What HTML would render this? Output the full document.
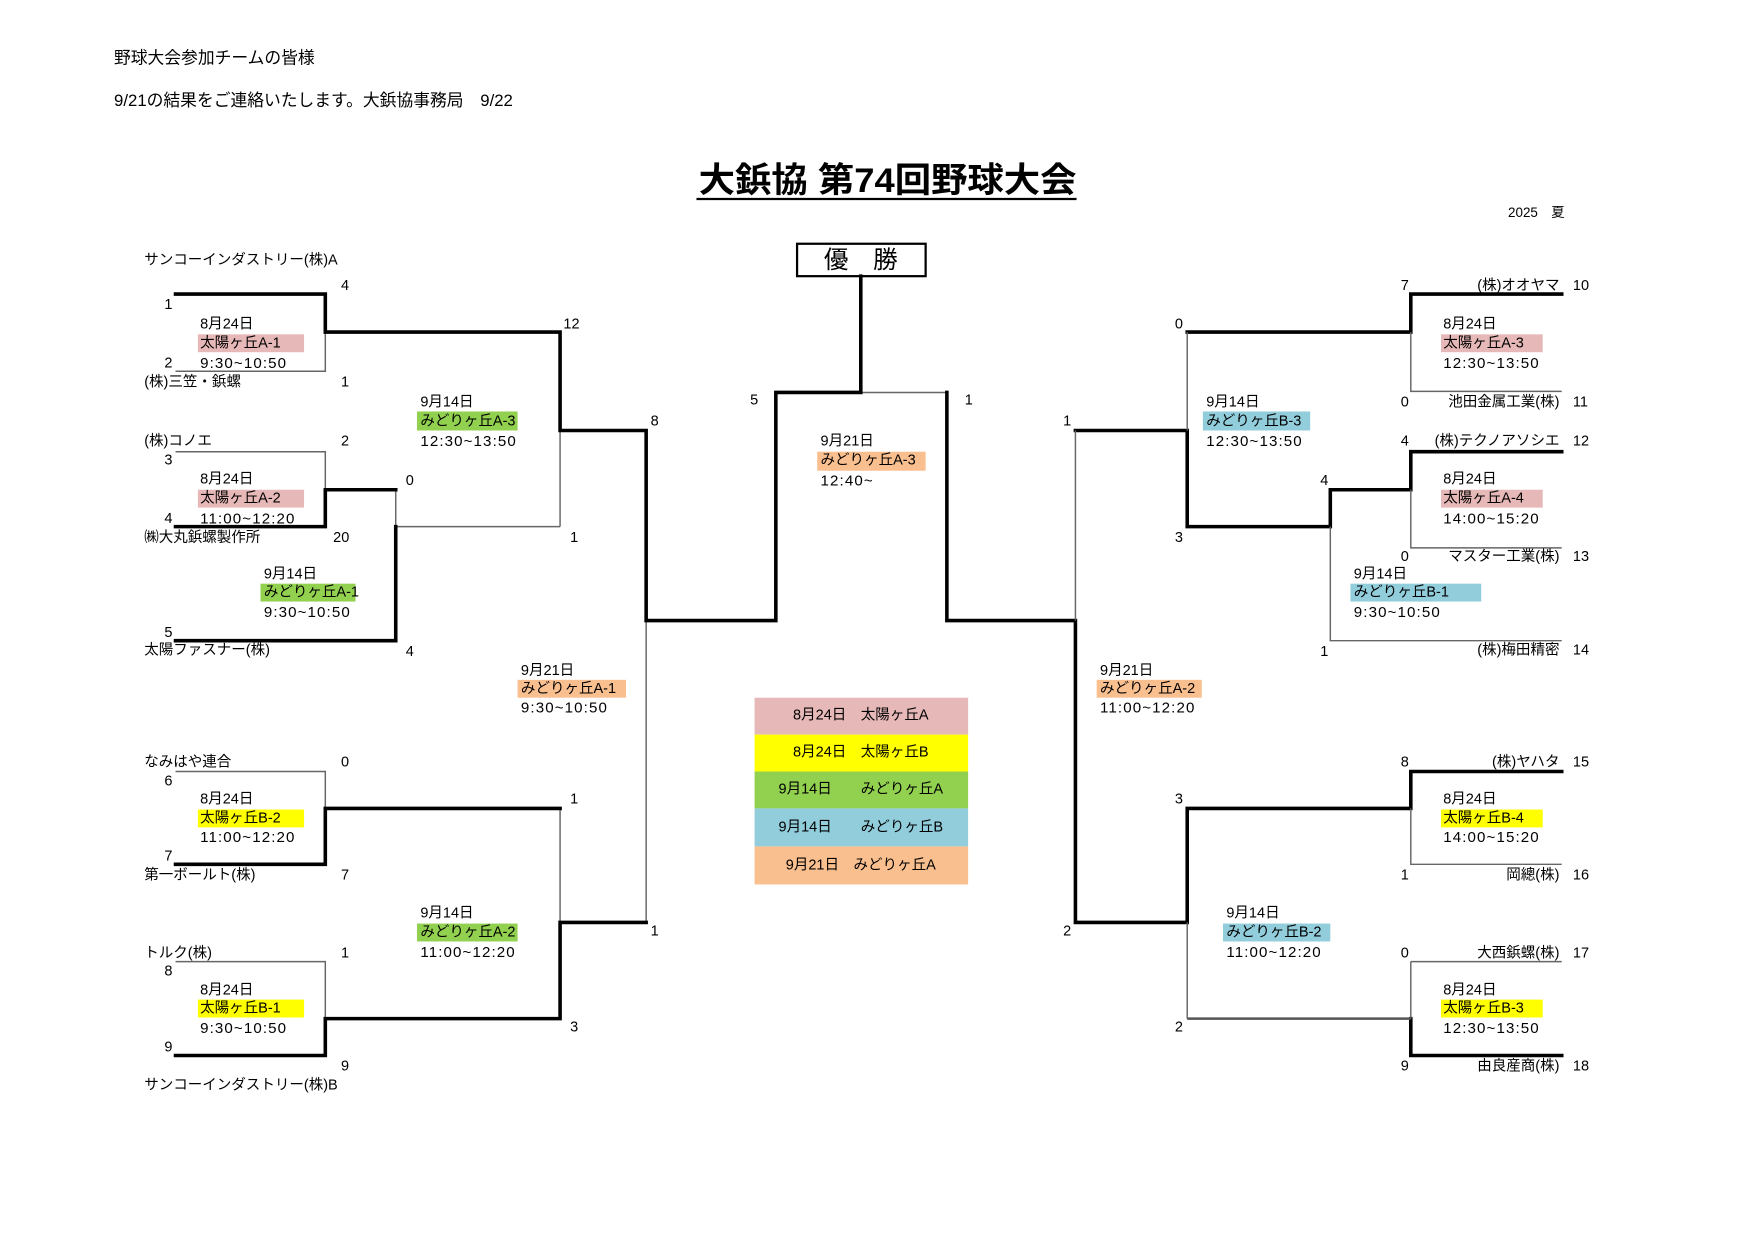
<!DOCTYPE html>
<html><head><meta charset="utf-8"><style>
html,body{margin:0;padding:0;background:#fff;width:1754px;height:1240px;overflow:hidden}
svg{display:block}
text{font-family:"Liberation Sans","Noto Sans CJK JP",sans-serif;font-size:13px;fill:#000;dominant-baseline:central}
.k{fill:none;stroke:#000;stroke-width:3.2;stroke-linecap:square}
.t{fill:none;stroke:#666;stroke-width:1.3}
.m{fill:none;stroke:#555;stroke-width:2.2}
.tm{letter-spacing:1px;font-size:13.5px}
.e{text-anchor:end}
</style></head><body>
<svg width="1754" height="1240" viewBox="0 0 1569 1109" preserveAspectRatio="none">
<text x="102" y="52" style="font-size:15px">野球大会参加チームの皆様</text>
<text x="102" y="90" style="font-size:15px">9/21の結果をご連絡いたします。大鋲協事務局　9/22</text>
<text x="625" y="162" textLength="338" lengthAdjust="spacingAndGlyphs" style="font-size:31px;font-weight:bold">大鋲協 第74回野球大会</text>
<line x1="623" y1="178" x2="963" y2="178" stroke="#000" stroke-width="2"/>
<text x="1349" y="190" style="font-size:12px">2025　夏</text>
<rect x="713" y="218" width="115" height="29" fill="#fff" stroke="#000" stroke-width="2"/>
<text x="770" y="233" text-anchor="middle" style="font-size:22px">優　勝</text>

<g>
<rect x="177" y="299" width="95" height="16" fill="#e6b8b7"/>
<rect x="177" y="438" width="95" height="16" fill="#e6b8b7"/>
<rect x="233" y="522" width="85" height="16" fill="#92d050"/>
<rect x="373" y="368" width="90" height="17" fill="#92d050"/>
<rect x="177" y="724" width="95" height="16" fill="#ffff00"/>
<rect x="177" y="894" width="95" height="16" fill="#ffff00"/>
<rect x="373" y="826" width="90" height="16" fill="#92d050"/>
<rect x="463" y="608" width="97" height="16" fill="#fabf8f"/>
<rect x="731" y="404" width="97" height="17" fill="#fabf8f"/>
<rect x="1289" y="299" width="91" height="16" fill="#e6b8b7"/>
<rect x="1289" y="438" width="91" height="16" fill="#e6b8b7"/>
<rect x="1208" y="522" width="117" height="16" fill="#92cddc"/>
<rect x="1076" y="368" width="96" height="17" fill="#92cddc"/>
<rect x="1289" y="724" width="91" height="16" fill="#ffff00"/>
<rect x="1289" y="894" width="91" height="16" fill="#ffff00"/>
<rect x="1094" y="826" width="96" height="16" fill="#92cddc"/>
<rect x="981" y="608" width="94" height="16" fill="#fabf8f"/>
</g>

<rect x="675" y="624" width="191" height="33" fill="#e6b8b7"/>
<rect x="675" y="657" width="191" height="33" fill="#ffff00"/>
<rect x="675" y="690" width="191" height="33" fill="#92d050"/>
<rect x="675" y="723" width="191" height="34" fill="#92cddc"/>
<rect x="675" y="757" width="191" height="34" fill="#fabf8f"/>
<text x="770" y="640" text-anchor="middle">8月24日　太陽ヶ丘A</text>
<text x="770" y="673" text-anchor="middle">8月24日　太陽ヶ丘B</text>
<text x="770" y="706" text-anchor="middle">9月14日　　みどりヶ丘A</text>
<text x="770" y="740" text-anchor="middle">9月14日　　みどりヶ丘B</text>
<text x="770" y="774" text-anchor="middle">9月21日　みどりヶ丘A</text>

<path class="t" d="M157 332H291V297M157 404H291V438M354 438V471H501M501 385V471M157 690H291V723M501 723V825M157 860H291V911M578 555V825M770 351H847"/>
<path class="k" d="M157 263H291V297H501V385H578V555H694V351H770M770 247V351M157 471H291V438H354M157 573H354V471M157 773H291V723H501M157 944H291V911H501V825H578"/>
<path class="k" d="M847 351V555H962V825H1062V723H1262V690H1397M962 385H1062V471H1190V438H1262V404H1397M1062 297H1262V263H1397M1262 911V944H1397"/>
<path class="t" d="M962 385V555M1062 297V385M1262 297V350H1397M1262 438V490H1397M1190 471V573H1397M1262 723V773H1397M1262 860H1397M1262 860V911M1062 825V911"/>
<path class="m" d="M1062 911H1262"/>

<text x="129" y="233">サンコーインダストリー(株)A</text>
<text x="129" y="342">(株)三笠・鋲螺</text>
<text x="129" y="395">(株)コノエ</text>
<text x="129" y="481">㈱大丸鋲螺製作所</text>
<text x="129" y="582">太陽ファスナー(株)</text>
<text x="129" y="682">なみはや連合</text>
<text x="129" y="783">第一ボールト(株)</text>
<text x="129" y="853">トルク(株)</text>
<text x="129" y="971">サンコーインダストリー(株)B</text>
<text x="147" y="273">1</text><text x="147" y="325">2</text><text x="147" y="412">3</text><text x="147" y="464">4</text>
<text x="147" y="566">5</text><text x="147" y="699">6</text><text x="147" y="766">7</text><text x="147" y="869">8</text><text x="147" y="937">9</text>
<text x="305" y="256">4</text><text x="305" y="342">1</text><text x="305" y="395">2</text><text x="298" y="481">20</text>
<text x="363" y="430">0</text><text x="363" y="583">4</text><text x="504" y="290">12</text><text x="510" y="481">1</text>
<text x="582" y="377">8</text><text x="582" y="833">1</text><text x="305" y="682">0</text><text x="305" y="783">7</text>
<text x="305" y="853">1</text><text x="305" y="954">9</text><text x="510" y="715">1</text><text x="510" y="919">3</text>
<text x="671" y="358">5</text><text x="863" y="358">1</text>

<text x="179" y="290">8月24日</text><text x="179" y="307">太陽ヶ丘A-1</text><text x="179" y="325" class="tm">9:30~10:50</text>
<text x="179" y="429">8月24日</text><text x="179" y="446">太陽ヶ丘A-2</text><text x="179" y="464" class="tm">11:00~12:20</text>
<text x="236" y="514">9月14日</text><text x="236" y="530">みどりヶ丘A-1</text><text x="236" y="548" class="tm">9:30~10:50</text>
<text x="376" y="360">9月14日</text><text x="376" y="377">みどりヶ丘A-3</text><text x="376" y="395" class="tm">12:30~13:50</text>
<text x="179" y="715">8月24日</text><text x="179" y="732">太陽ヶ丘B-2</text><text x="179" y="749" class="tm">11:00~12:20</text>
<text x="179" y="886">8月24日</text><text x="179" y="902">太陽ヶ丘B-1</text><text x="179" y="920" class="tm">9:30~10:50</text>
<text x="376" y="817">9月14日</text><text x="376" y="834">みどりヶ丘A-2</text><text x="376" y="852" class="tm">11:00~12:20</text>
<text x="466" y="600">9月21日</text><text x="466" y="616">みどりヶ丘A-1</text><text x="466" y="633" class="tm">9:30~10:50</text>
<text x="734" y="395">9月21日</text><text x="734" y="412">みどりヶ丘A-3</text><text x="734" y="430" class="tm">12:40~</text>

<text x="1395" y="256" class="e">(株)オオヤマ</text>
<text x="1395" y="360" class="e">池田金属工業(株)</text>
<text x="1395" y="395" class="e">(株)テクノアソシエ</text>
<text x="1395" y="498" class="e">マスター工業(株)</text>
<text x="1395" y="582" class="e">(株)梅田精密</text>
<text x="1395" y="682" class="e">(株)ヤハタ</text>
<text x="1395" y="783" class="e">岡總(株)</text>
<text x="1395" y="853" class="e">大西鋲螺(株)</text>
<text x="1395" y="954" class="e">由良産商(株)</text>
<text x="1407" y="256">10</text><text x="1407" y="360">11</text><text x="1407" y="395">12</text><text x="1407" y="498">13</text>
<text x="1407" y="582">14</text><text x="1407" y="682">15</text><text x="1407" y="783">16</text><text x="1407" y="853">17</text><text x="1407" y="954">18</text>
<text x="1253" y="256">7</text><text x="1253" y="360">0</text><text x="1253" y="395">4</text><text x="1253" y="498">0</text>
<text x="1181" y="430">4</text><text x="1181" y="583">1</text><text x="1051" y="290">0</text><text x="1051" y="481">3</text>
<text x="951" y="377">1</text><text x="951" y="833">2</text><text x="1253" y="682">8</text><text x="1253" y="783">1</text>
<text x="1253" y="853">0</text><text x="1253" y="954">9</text><text x="1051" y="715">3</text><text x="1051" y="919">2</text>
<text x="1291" y="290">8月24日</text><text x="1291" y="307">太陽ヶ丘A-3</text><text x="1291" y="325" class="tm">12:30~13:50</text>
<text x="1291" y="429">8月24日</text><text x="1291" y="446">太陽ヶ丘A-4</text><text x="1291" y="464" class="tm">14:00~15:20</text>
<text x="1211" y="514">9月14日</text><text x="1211" y="530">みどりヶ丘B-1</text><text x="1211" y="548" class="tm">9:30~10:50</text>
<text x="1079" y="360">9月14日</text><text x="1079" y="377">みどりヶ丘B-3</text><text x="1079" y="395" class="tm">12:30~13:50</text>
<text x="1291" y="715">8月24日</text><text x="1291" y="732">太陽ヶ丘B-4</text><text x="1291" y="749" class="tm">14:00~15:20</text>
<text x="1291" y="886">8月24日</text><text x="1291" y="902">太陽ヶ丘B-3</text><text x="1291" y="920" class="tm">12:30~13:50</text>
<text x="1097" y="817">9月14日</text><text x="1097" y="834">みどりヶ丘B-2</text><text x="1097" y="852" class="tm">11:00~12:20</text>
<text x="984" y="600">9月21日</text><text x="984" y="616">みどりヶ丘A-2</text><text x="984" y="633" class="tm">11:00~12:20</text>
</svg>
</body></html>
